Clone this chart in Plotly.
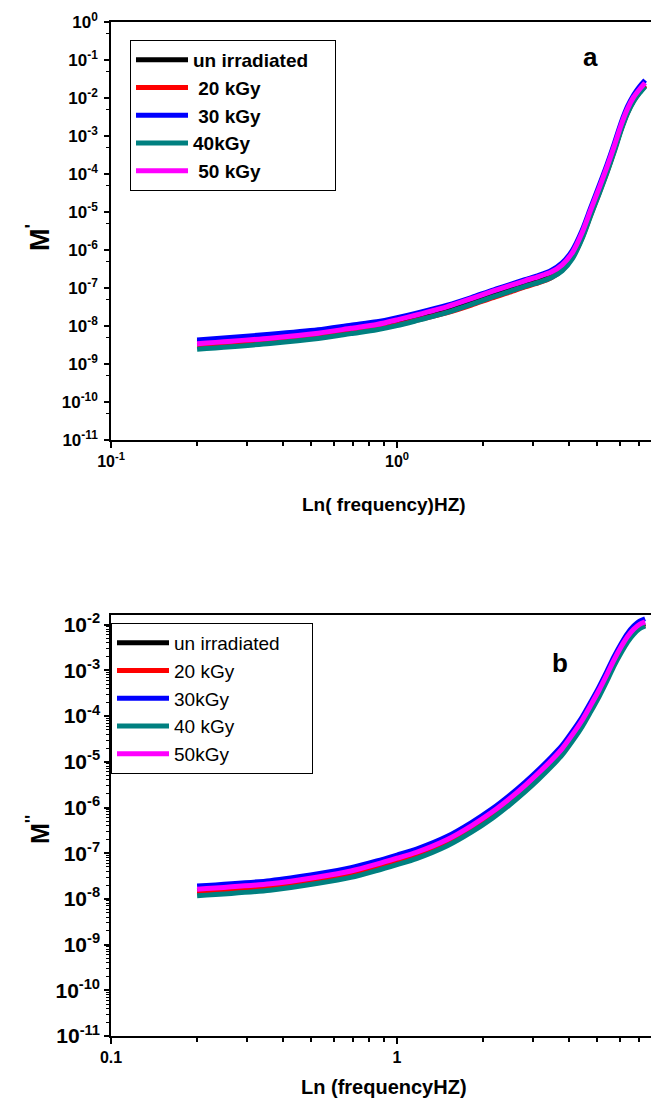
import plotly.graph_objects as go

W, H = 651, 1099
FONT = "Liberation Sans, Arial, sans-serif"

# ---------------- data ----------------
freq = [0.2, 0.36, 0.53, 0.69, 0.85, 1.0, 1.17, 1.5, 1.82, 2.15, 2.48, 2.8, 3.13,
        3.46, 3.78, 4.11, 4.44, 4.76, 5.09, 5.42, 5.74, 6.07, 6.4, 6.72, 7.05, 7.37]

# panel a : M'
m1_unirr = [3.80e-9, 5.13e-9, 6.61e-9, 8.32e-9, 1.00e-8, 1.23e-8, 1.62e-8, 2.57e-8, 4.17e-8,
            6.46e-8, 9.12e-8, 1.23e-7, 1.58e-7, 2.09e-7, 3.16e-7, 6.76e-7, 2.24e-6, 9.12e-6,
            3.39e-5, 1.20e-4, 4.17e-4, 1.51e-3, 4.27e-3, 8.71e-3, 1.45e-2, 2.14e-2]
m1_20 = [3.02e-9, 4.17e-9, 5.50e-9, 7.08e-9, 8.51e-9, 1.07e-8, 1.41e-8, 2.24e-8, 3.55e-8,
         5.50e-8, 7.76e-8, 1.07e-7, 1.38e-7, 1.86e-7, 2.95e-7, 6.46e-7, 2.14e-6, 8.51e-6,
         3.16e-5, 1.12e-4, 3.98e-4, 1.48e-3, 4.17e-3, 8.51e-3, 1.41e-2, 2.09e-2]
m1_30 = [4.27e-9, 6.03e-9, 7.94e-9, 1.05e-8, 1.29e-8, 1.66e-8, 2.19e-8, 3.55e-8, 5.62e-8,
         8.71e-8, 1.23e-7, 1.66e-7, 2.14e-7, 2.88e-7, 4.57e-7, 1.00e-6, 3.31e-6, 1.32e-5,
         4.90e-5, 1.74e-4, 6.03e-4, 2.19e-3, 6.03e-3, 1.20e-2, 2.00e-2, 2.95e-2]
m1_40 = [2.45e-9, 3.47e-9, 4.68e-9, 6.31e-9, 7.94e-9, 1.02e-8, 1.38e-8, 2.29e-8, 3.72e-8,
         5.75e-8, 8.13e-8, 1.10e-7, 1.41e-7, 1.86e-7, 2.82e-7, 6.03e-7, 2.00e-6, 8.13e-6,
         3.02e-5, 1.07e-4, 3.72e-4, 1.38e-3, 3.98e-3, 8.13e-3, 1.35e-2, 2.00e-2]
m1_50 = [3.39e-9, 4.79e-9, 6.46e-9, 8.71e-9, 1.10e-8, 1.45e-8, 1.95e-8, 3.24e-8, 5.25e-8,
         8.13e-8, 1.15e-7, 1.55e-7, 2.00e-7, 2.63e-7, 4.07e-7, 8.71e-7, 2.88e-6, 1.15e-5,
         4.27e-5, 1.51e-4, 5.25e-4, 1.91e-3, 5.25e-3, 1.05e-2, 1.70e-2, 2.51e-2]

# panel b : M''
m2_unirr = [1.51e-8, 2.00e-8, 2.82e-8, 3.80e-8, 5.37e-8, 7.24e-8, 9.77e-8, 1.86e-7, 3.72e-7,
            7.41e-7, 1.48e-6, 2.82e-6, 5.37e-6, 1.00e-5, 1.82e-5, 3.72e-5, 7.59e-5, 1.62e-4,
            3.47e-4, 7.59e-4, 1.58e-3, 3.02e-3, 5.13e-3, 7.41e-3, 9.55e-3, 1.07e-2]
m2_20 = [1.38e-8, 1.82e-8, 2.57e-8, 3.47e-8, 4.90e-8, 6.61e-8, 8.91e-8, 1.70e-7, 3.39e-7,
         6.76e-7, 1.35e-6, 2.57e-6, 4.90e-6, 9.12e-6, 1.66e-5, 3.39e-5, 6.92e-5, 1.48e-4,
         3.16e-4, 6.92e-4, 1.45e-3, 2.75e-3, 4.68e-3, 6.76e-3, 8.71e-3, 9.77e-3]
m2_30 = [1.91e-8, 2.51e-8, 3.55e-8, 4.79e-8, 6.76e-8, 9.12e-8, 1.23e-7, 2.34e-7, 4.68e-7,
         9.33e-7, 1.86e-6, 3.55e-6, 6.76e-6, 1.26e-5, 2.29e-5, 4.68e-5, 9.55e-5, 2.04e-4,
         4.37e-4, 9.55e-4, 2.00e-3, 3.80e-3, 6.46e-3, 9.33e-3, 1.20e-2, 1.35e-2]
m2_40 = [1.17e-8, 1.55e-8, 2.19e-8, 2.95e-8, 4.17e-8, 5.62e-8, 7.59e-8, 1.45e-7, 2.88e-7,
         5.75e-7, 1.15e-6, 2.19e-6, 4.17e-6, 7.76e-6, 1.41e-5, 2.88e-5, 5.89e-5, 1.26e-4,
         2.69e-4, 5.89e-4, 1.26e-3, 2.40e-3, 4.17e-3, 6.17e-3, 8.13e-3, 9.33e-3]
m2_50 = [1.62e-8, 2.14e-8, 3.02e-8, 4.07e-8, 5.75e-8, 7.76e-8, 1.05e-7, 2.00e-7, 3.98e-7,
         7.94e-7, 1.58e-6, 3.02e-6, 5.75e-6, 1.07e-5, 1.95e-5, 3.98e-5, 8.13e-5, 1.74e-4,
         3.72e-4, 8.13e-4, 1.70e-3, 3.24e-3, 5.50e-3, 7.94e-3, 1.02e-2, 1.15e-2]

NB = "\u00a0"
names_a = ["un irradiated" + NB * 4, NB + "20 kGy", NB + "30 kGy", "40kGy", NB + "50 kGy"]
names_b = ["un irradiated" + NB * 5, "20 kGy", "30kGy", "40 kGy", "50kGy"]
colors = ["#000000", "#ff0000", "#0000ff", "#008080", "#ff00ff"]

top_y_ticks = [10.0 ** -k for k in range(0, 12)]
top_y_text = ["10<sup>%d</sup>" % (-k) if k else "10<sup>0</sup>" for k in range(0, 12)]
bot_y_ticks = [10.0 ** -k for k in range(2, 12)]
bot_y_text = ["10<sup>%d</sup>" % (-k) for k in range(2, 12)]
x_minor = [0.2, 0.3, 0.4, 0.5, 0.6, 0.7, 0.8, 0.9, 2, 3, 4, 5, 6, 7]

# ---------------- figure ----------------
fig = go.Figure()
for ys, nm, c in zip([m1_unirr, m1_20, m1_30, m1_40, m1_50], names_a, colors):
    fig.add_trace(go.Scatter(x=freq, y=ys, name=nm, mode="lines",
                             line=dict(color=c, width=5, shape="spline", smoothing=0.7),
                             xaxis="x", yaxis="y", legend="legend"))
for ys, nm, c in zip([m2_unirr, m2_20, m2_30, m2_40, m2_50], names_b, colors):
    fig.add_trace(go.Scatter(x=freq, y=ys, name=nm, mode="lines",
                             line=dict(color=c, width=5, shape="spline", smoothing=0.7),
                             xaxis="x2", yaxis="y2", legend="legend2"))


def xaxis(anchor, ticktext):
    return dict(type="log", range=[-1, -1 + 540 / 286], domain=[111 / W, 1],
                anchor=anchor, showline=True, linecolor="black", linewidth=1.5,
                mirror=True, ticks="outside", ticklen=6, tickwidth=1.5, tickcolor="black",
                tickvals=[0.1, 1], ticktext=ticktext,
                tickfont=dict(family=FONT, size=16, color="black", weight="bold"),
                minor=dict(tickvals=x_minor, ticks="outside", ticklen=4, tickwidth=1.5,
                           tickcolor="black", showgrid=False),
                showgrid=False, zeroline=False, automargin=False)


def yaxis(anchor, dom, rng, tv, tt, size, minor_vals, standoff):
    return dict(type="log", range=rng, domain=dom, anchor=anchor,
                showline=True, linecolor="black", linewidth=1.5, mirror=False,
                ticks="outside", ticklen=5, tickwidth=1.5, tickcolor="black",
                tickvals=tv, ticktext=tt, ticklabelstandoff=standoff,
                tickfont=dict(family=FONT, size=size, color="black", weight="bold"),
                minor=dict(tickvals=minor_vals, ticks="outside", ticklen=3, tickwidth=1,
                           tickcolor="black", showgrid=False),
                showgrid=False, zeroline=False, automargin=False)


top_minor = [5 * 10.0 ** -k for k in range(1, 12)]
bot_minor = [m * 10.0 ** -k for k in range(3, 12) for m in range(2, 10)]

fig.update_layout(
    width=W, height=H, margin=dict(l=0, r=0, t=0, b=0),
    paper_bgcolor="white", plot_bgcolor="white", showlegend=True,
    xaxis=xaxis("y", ["10<sup>-1</sup>", "10<sup>0</sup>"]),
    yaxis=yaxis("x", [1 - 440 / H, 1 - 22 / H], [-11, 0], top_y_ticks, top_y_text, 17,
                top_minor, 3),
    xaxis2=xaxis("y2", ["0.1", "1"]),
    yaxis2=yaxis("x2", [1 - 1036 / H, 1 - 615 / H], [-11, -11 + 421 / 45.7], bot_y_ticks,
                 bot_y_text, 21, bot_minor, 0),
    legend=dict(x=130 / W, y=1 - 40 / H, xanchor="left", yanchor="top",
                bordercolor="black", borderwidth=1, bgcolor="white",
                font=dict(family=FONT, size=19, color="black", weight="bold"),
                itemwidth=52, tracegroupgap=0),
    legend2=dict(x=111 / W, y=1 - 623 / H, xanchor="left", yanchor="top",
                 bordercolor="black", borderwidth=1, bgcolor="white",
                 font=dict(family=FONT, size=19, color="black"),
                 itemwidth=52, tracegroupgap=0),
)

ann = [
    dict(text="a", x=590 / W, y=1 - 57 / H, size=26),
    dict(text="b", x=560 / W, y=1 - 663 / H, size=26),
    dict(text="Ln( frequency)HZ)", x=384 / W, y=1 - 504 / H, size=19),
    dict(text="Ln (frequencyHZ)", x=384 / W, y=1 - 1087 / H, size=20),
]
for a in ann:
    fig.add_annotation(text=a["text"], x=a["x"], y=a["y"], xref="paper", yref="paper",
                       xanchor="center", yanchor="middle", showarrow=False,
                       font=dict(family=FONT, size=a["size"], color="black", weight="bold"))
fig.add_annotation(text="M<sup>'</sup>", x=38 / W, y=1 - 238 / H, xref="paper", yref="paper",
                   xanchor="center", yanchor="middle", showarrow=False, textangle=-90,
                   font=dict(family=FONT, size=27, color="black", weight="bold"))
fig.add_annotation(text="M<sup>''</sup>", x=38 / W, y=1 - 830 / H, xref="paper", yref="paper",
                   xanchor="center", yanchor="middle", showarrow=False, textangle=-90,
                   font=dict(family=FONT, size=25, color="black", weight="bold"))

fig.write_html("out.html")
